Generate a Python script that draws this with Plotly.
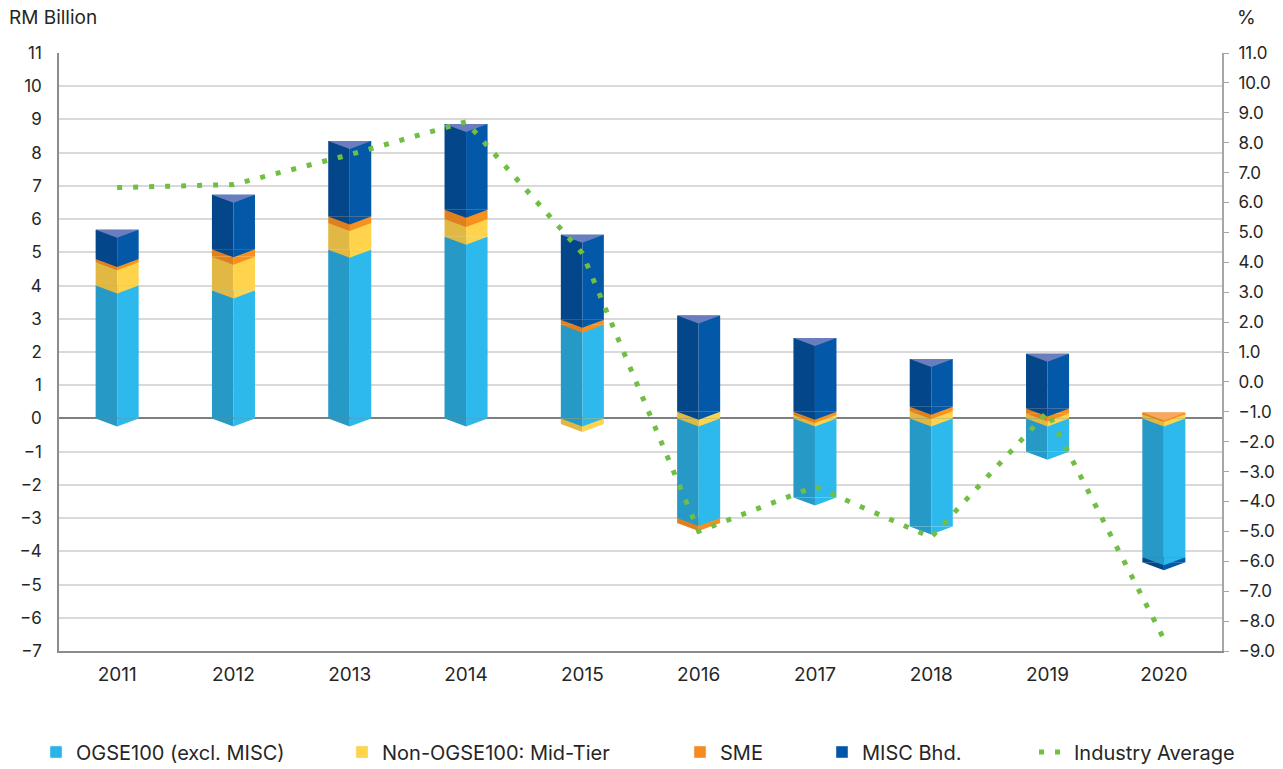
import plotly.graph_objects as go

# ---------------- data ----------------
years = ["2011", "2012", "2013", "2014", "2015", "2016", "2017", "2018", "2019", "2020"]
ogse100 = [4.00, 3.85, 5.08, 5.47, 2.82, -3.00, -2.38, -3.25, -1.00, -4.18]
mid_tier = [0.70, 1.02, 0.80, 0.53, -0.17, 0.20, 0.10, 0.22, 0.15, 0.13]
sme = [0.10, 0.22, 0.20, 0.28, 0.15, -0.15, 0.10, 0.13, 0.15, 0.05]
misc = [0.88, 1.64, 2.27, 2.58, 2.56, 2.90, 2.22, 1.44, 1.65, -0.15]
industry_avg = [6.5, 6.6, 7.6, 8.7, 4.3, -5.0, -3.5, -5.2, -1.0, -8.6]

left_ticks = list(range(-7, 12))
right_ticks = list(range(-9, 12))

series = [
    ("OGSE100 (excl. MISC)", ogse100, "#2699C6", "#2DB9EC", "#8AD7F5"),
    ("Non-OGSE100: Mid-Tier", mid_tier, "#E0B843", "#FFD44C", "#FFE28A"),
    ("SME", sme, "#E07F1D", "#F7901E", "#F6A95E"),
    ("MISC Bhd.", misc, "#03478A", "#0458A8", "#6A7DBF"),
]
legend_colors = ["#29B5E8", "#FFD34A", "#F68B1F", "#0055A5"]

HALF = 0.185   # half bar width in category units
DEPTH = 0.24   # depth of the 3D "V" in data units

xs = list(range(len(years)))

# stacking (positive and negative stacks separately)
pos_base = [0.0] * len(xs)
neg_base = [0.0] * len(xs)
seg = []  # per series: list of (bottom, top) per year
for name, vals, dark, light, topc in series:
    bt = []
    for i, v in enumerate(vals):
        if v >= 0:
            b = pos_base[i]
            pos_base[i] += v
            bt.append((b, b + v))
        else:
            t = neg_base[i]
            neg_base[i] += v
            bt.append((t + v, t))
    seg.append(bt)

fig = go.Figure()

legend_names = ["legend", "legend2", "legend3", "legend4"]
for k, (name, vals, dark, light, topc) in enumerate(series):
    bases = [seg[k][i][0] for i in xs]
    heights = [seg[k][i][1] - seg[k][i][0] for i in xs]
    fig.add_trace(go.Bar(x=xs, y=heights, base=bases, offset=-HALF, width=HALF,
                         marker=dict(color=dark, line=dict(width=0)),
                         showlegend=False, hoverinfo="skip"))
    fig.add_trace(go.Bar(x=xs, y=heights, base=bases, offset=0, width=HALF,
                         marker=dict(color=light, line=dict(width=0)),
                         showlegend=False, hoverinfo="skip"))


def v_triangles(idx_list, k, half):
    px, py = [], []
    for i in idx_list:
        b = seg[k][i][0]
        if half == "L":
            px += [i - HALF, i, i, i - HALF, None]
            py += [b, b, b - DEPTH, b, None]
        else:
            px += [i, i + HALF, i + HALF, i, None]
            py += [b, b, b, b - DEPTH, None]
    return px, py


def tri_trace(px, py, color):
    return go.Scatter(x=px, y=py, mode="lines", fill="toself", fillcolor=color,
                      line=dict(width=0, color=color), showlegend=False,
                      hoverinfo="skip")


# negative-stack V's (lowest first)
for k in reversed(range(len(series))):
    idx = [i for i in xs if series[k][1][i] < 0]
    if not idx:
        continue
    for half, col in (("L", series[k][2]), ("R", series[k][3])):
        px, py = v_triangles(idx, k, half)
        fig.add_trace(tri_trace(px, py, col))
# positive-stack V's
for k in range(len(series)):
    idx = [i for i in xs if series[k][1][i] >= 0]
    for half, col in (("L", series[k][2]), ("R", series[k][3])):
        px, py = v_triangles(idx, k, half)
        fig.add_trace(tri_trace(px, py, col))

# top faces
for k in range(len(series)):
    px, py = [], []
    for i in xs:
        top = pos_base[i]
        last = max(j for j in range(len(series)) if series[j][1][i] >= 0)
        if last == k:
            px += [i - HALF, i + HALF, i, i - HALF, None]
            py += [top, top, top - DEPTH, top, None]
    if px:
        fig.add_trace(tri_trace(px, py, series[k][4]))

# legend entries
for k, (name, vals, dark, light, topc) in enumerate(series):
    fig.add_trace(go.Bar(x=[None], y=[None], name=name,
                         marker=dict(color=legend_colors[k]),
                         legend=legend_names[k], showlegend=True))

fig.add_trace(go.Scatter(x=xs, y=industry_avg, name="Industry Average", yaxis="y2",
                         mode="lines", line=dict(color="#70BF44", width=5, dash="5px,11px"),
                         legend="legend5"))

font_family = "Inter, 'Open Sans', sans-serif"
txt = "#262626"

leg_common = dict(orientation="h", yref="container", xref="container",
                  yanchor="middle", y=1 - 752 / 769, xanchor="left",
                  font=dict(size=20, color=txt, family=font_family),
                  bgcolor="rgba(0,0,0,0)")
legend_px = [36, 342, 680, 822, 1034]

fig.update_layout(
    width=1283, height=769,
    margin=dict(l=59, r=61, t=53, b=118, autoexpand=False),
    paper_bgcolor="white", plot_bgcolor="white",
    barmode="overlay",
    font=dict(family=font_family, size=17, color=txt),
    legend=dict(x=legend_px[0] / 1283, **leg_common),
    legend2=dict(x=legend_px[1] / 1283, **leg_common),
    legend3=dict(x=legend_px[2] / 1283, **leg_common),
    legend4=dict(x=legend_px[3] / 1283, **leg_common),
    legend5=dict(x=legend_px[4] / 1283, **leg_common),
    xaxis=dict(range=[-0.5, len(years) - 0.5], tickvals=xs, ticktext=years,
               showgrid=False, zeroline=False, showline=True, linecolor="#8C8C8C",
               linewidth=1.5, ticks="", tickfont=dict(size=19, color=txt),
               ticklabelstandoff=5),
    yaxis=dict(range=[-7, 11], tickvals=left_ticks, showgrid=True, gridcolor="#D9D9D9",
               gridwidth=2, zeroline=True, zerolinecolor="#7F7F7F", zerolinewidth=2,
               showline=True, linecolor="#8C8C8C", linewidth=1.5, ticks="",
               tickfont=dict(size=17, color=txt), ticklabelstandoff=12),
    yaxis2=dict(range=[-9, 11], tickvals=right_ticks, tickformat=".1f", overlaying="y",
                side="right", showgrid=False, zeroline=False, showline=True,
                linecolor="#A6A6A6", linewidth=2, ticks="outside", ticklen=5,
                tickcolor="#A6A6A6", tickfont=dict(size=17, color=txt),
                ticklabelstandoff=6),
    annotations=[
        dict(text="RM Billion", xref="paper", yref="paper", x=-0.0447, y=1.06,
             xanchor="left", yanchor="middle", showarrow=False,
             font=dict(size=19, color=txt)),
        dict(text="%", xref="paper", yref="paper", x=1.011, y=1.06,
             xanchor="left", yanchor="middle", showarrow=False,
             font=dict(size=19, color=txt)),
    ],
)

fig.write_html("out.html")
